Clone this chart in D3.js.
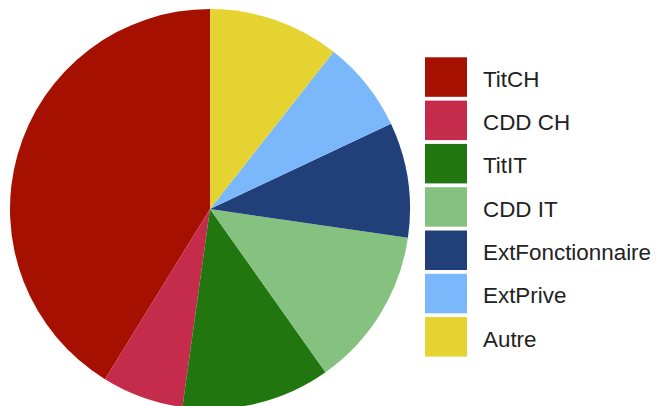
<!DOCTYPE html>
<html>
<head>
<meta charset="utf-8">
<script src="https://cdn.jsdelivr.net/npm/d3@7"></script>
<style>
  body { margin: 0; background: #fff; }
</style>
</head>
<body>
<div class="board"></div>
<script>
// categories in legend order; the pie runs counter-clockwise from 12 o'clock
let categories = ['TitCH', 'CDD CH', 'TitIT', 'CDD IT', 'ExtFonctionnaire', 'ExtPrive', 'Autre'];
let values = [412, 66, 120, 129, 93, 74, 106];
let colors = ['#a61000', '#c52b4a', '#22760f', '#85c280', '#213f78', '#7ab8fb', '#e5d332'];

let svg = d3.select('.board').append('svg')
    .attr('width', 658)
    .attr('height', 406);

/////// PIE ///////////////////////////////////////

let data = categories.map((c, i) => ({ name: c, value: values[i], fill: colors[i] }));

let pie = d3.pie()
    .sort(null)
    .value(d => d.value)
    .startAngle(0)
    .endAngle(-2 * Math.PI);

let arc = d3.arc()
    .innerRadius(0)
    .outerRadius(200);

svg.append('g')
    .attr('transform', 'translate(210,209)')
  .selectAll('path')
    .data(pie(data))
  .enter().append('path')
    .attr('d', arc)
    .attr('fill', d => d.data.fill);

/////// LEGEND ///////////////////////////////////////

let y = d3.scaleBand()
    .domain(categories)
    .range([57.3, 57.3 + 43.3 * categories.length]);

let legend = svg.append('g')
  .selectAll('g')
    .data(data)
  .enter().append('g')
    .attr('transform', d => `translate(425,${y(d.name)})`);

legend.append('rect')
    .attr('width', 42)
    .attr('height', 39.5)
    .attr('fill', d => d.fill);

legend.append('text')
    .attr('x', 58)
    .attr('y', 29.5)
    .style('font-family', 'Liberation Sans, Arial, sans-serif')
    .style('font-size', '22.4px')
    .style('fill', '#222')
    .text(d => d.name);
</script>
</body>
</html>
